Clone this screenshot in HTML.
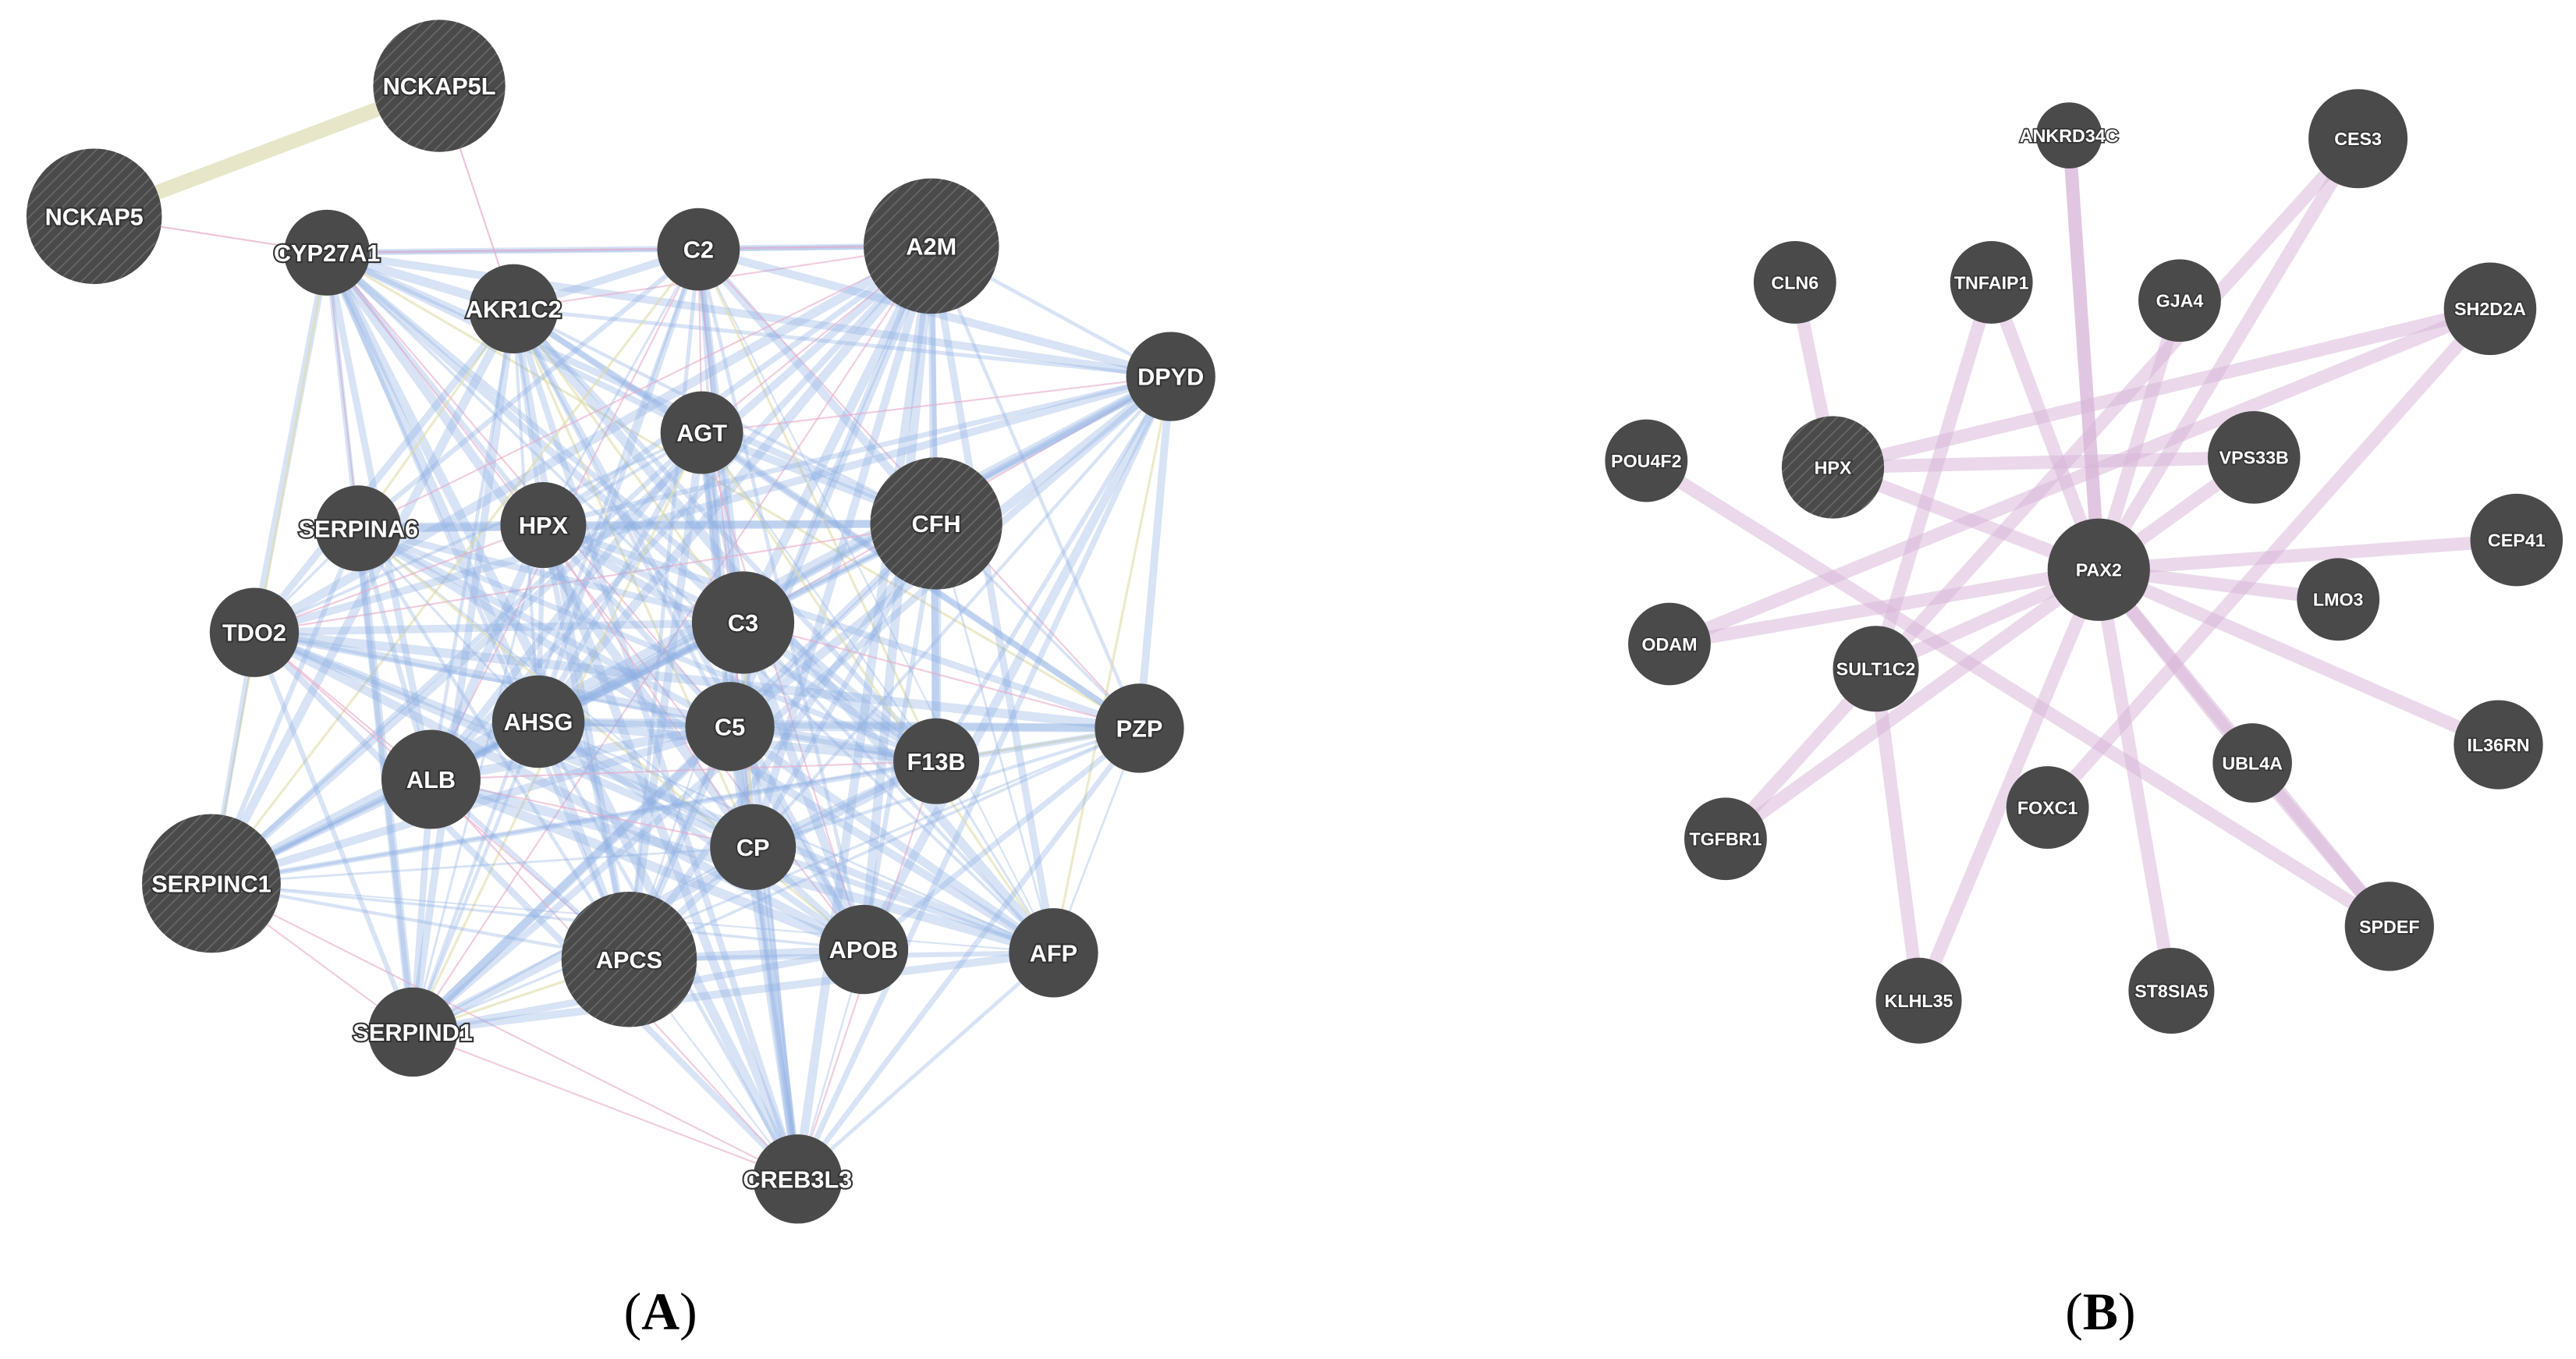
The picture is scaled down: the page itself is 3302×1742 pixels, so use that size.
<!DOCTYPE html>
<html><head><meta charset="utf-8"><style>
html,body{margin:0;padding:0;background:#fff;}
svg{display:block;}
text{font-family:"Liberation Sans",sans-serif;}
</style></head><body>
<svg id="s" width="3302" height="1742" viewBox="0 0 1560 823" xmlns="http://www.w3.org/2000/svg">
<defs>
<pattern id="h" width="5" height="5" patternUnits="userSpaceOnUse" patternTransform="rotate(45)">
<rect width="5" height="5" fill="#4a4a4a"/><line x1="0" y1="0" x2="0" y2="5" stroke="#6a6a6a" stroke-width="1.5"/>
</pattern>
</defs>
<g id="edges"></g>
<g id="nodes"></g>
<text x="400" y="805" font-size="32" text-anchor="middle" style="font-family:'Liberation Serif',serif">(<tspan font-weight="bold">A</tspan>)</text>
<text x="1272" y="805" font-size="32" text-anchor="middle" style="font-family:'Liberation Serif',serif">(<tspan font-weight="bold">B</tspan>)</text>
</svg>
<script>
var A={NCKAP5L:[266,52,40,1],NCKAP5:[57,131,41,1],CYP27A1:[198,153,26],AKR1C2:[311,187,27],C2:[423,151,25],A2M:[564,149,41,1],DPYD:[709,228,27],AGT:[425,262,25],CFH:[567,317,40,1],SERPINA6:[217,320,26],HPX:[329,318,26],TDO2:[154,383,27],C3:[450,377,31],AHSG:[326,437,28],C5:[442,440,27],F13B:[567,461,26],PZP:[690,441,27],ALB:[261,472,30],CP:[456,513,26],SERPINC1:[128,535,42,1],APCS:[381,581,41,1],APOB:[523,575,27],AFP:[638,577,27],SERPIND1:[250,625,27],CREB3L3:[483,714,27]};
var B={ANKRD34C:[1253,82,20],CES3:[1428,84,30],CLN6:[1087,171,25],TNFAIP1:[1206,171,25],GJA4:[1320,182,25],SH2D2A:[1508,187,28],POU4F2:[997,279,25],HPX:[1110,283,31,1],VPS33B:[1365,277,28],PAX2:[1271,345,31],CEP41:[1524,327,28],LMO3:[1416,363,25],ODAM:[1011,390,25],SULT1C2:[1136,405,26],IL36RN:[1513,451,27],UBL4A:[1364,462,24],FOXC1:[1240,489,25],TGFBR1:[1045,508,25],SPDEF:[1447,561,27],KLHL35:[1162,606,26],ST8SIA5:[1315,600,26]};
var NS="http://www.w3.org/2000/svg",E=document.getElementById('edges'),N=document.getElementById('nodes');
function ln(a,b,c,w,o){var l=document.createElementNS(NS,'line');l.setAttribute('x1',a[0]);l.setAttribute('y1',a[1]);l.setAttribute('x2',b[0]);l.setAttribute('y2',b[1]);l.setAttribute('stroke',c);l.setAttribute('stroke-width',w);l.setAttribute('stroke-opacity',o);l.setAttribute('stroke-linecap','round');E.appendChild(l);}
var seed=7;function r(){seed=(seed*16807)%2147483647;return seed/2147483647;}
var k=Object.keys(A).filter(x=>x!='NCKAP5'&&x!='NCKAP5L');
for(var i=0;i<k.length;i++)for(var j=i+1;j<k.length;j++){var p=r();
 if(p<0.8)ln(A[k[i]],A[k[j]],'#8fb0e3',1+r()*5,0.35);
 else if(p<0.9)ln(A[k[i]],A[k[j]],'#e8a8c8',1,0.6);
 else if(p<0.94)ln(A[k[i]],A[k[j]],'#e0dca8',1.5,0.6);}
ln(A.NCKAP5,A.NCKAP5L,'#e8e6c8',9,1);
ln(A.NCKAP5,A.CYP27A1,'#e8a8c8',1,0.7);
ln(A.NCKAP5L,A.AKR1C2,'#e8a8c8',1,0.7);
ln(A.CYP27A1,A.A2M,'#e8a8c8',1,0.7);
var be=[['PAX2','ANKRD34C'],['PAX2','CES3'],['PAX2','TNFAIP1'],['PAX2','GJA4'],['PAX2','HPX'],['PAX2','VPS33B'],['PAX2','CEP41'],['PAX2','ODAM'],['PAX2','SULT1C2'],['PAX2','UBL4A'],['PAX2','ST8SIA5'],['PAX2','IL36RN'],['PAX2','LMO3'],['PAX2','TGFBR1'],['PAX2','KLHL35'],['HPX','SH2D2A'],['HPX','CLN6'],['HPX','VPS33B'],['CES3','TGFBR1'],['ANKRD34C','PAX2'],['TNFAIP1','SULT1C2'],['SULT1C2','KLHL35'],['FOXC1','SH2D2A'],['POU4F2','SPDEF'],['UBL4A','SPDEF'],['ODAM','SH2D2A'],['PAX2','SPDEF']];
be.forEach(e=>ln(B[e[0]],B[e[1]],'#d8b4d8',8,0.5));
function nodes(S,fs){for(var n in S){var d=S[n],c=document.createElementNS(NS,'circle');c.setAttribute('cx',d[0]);c.setAttribute('cy',d[1]);c.setAttribute('r',d[2]);c.setAttribute('fill',d[3]?'url(#h)':'#4a4a4a');N.appendChild(c);
var t=document.createElementNS(NS,'text');t.setAttribute('x',d[0]);t.setAttribute('y',d[1]+fs*0.36);t.setAttribute('text-anchor','middle');t.setAttribute('font-size',fs);t.setAttribute('font-weight','bold');t.setAttribute('fill','#fff');t.setAttribute('stroke','#333');t.setAttribute('stroke-width',fs>12?2:1.5);t.setAttribute('paint-order','stroke');t.textContent=n;N.appendChild(t);}}
nodes(A,14.5);nodes(B,11);
</script>
</body></html>
